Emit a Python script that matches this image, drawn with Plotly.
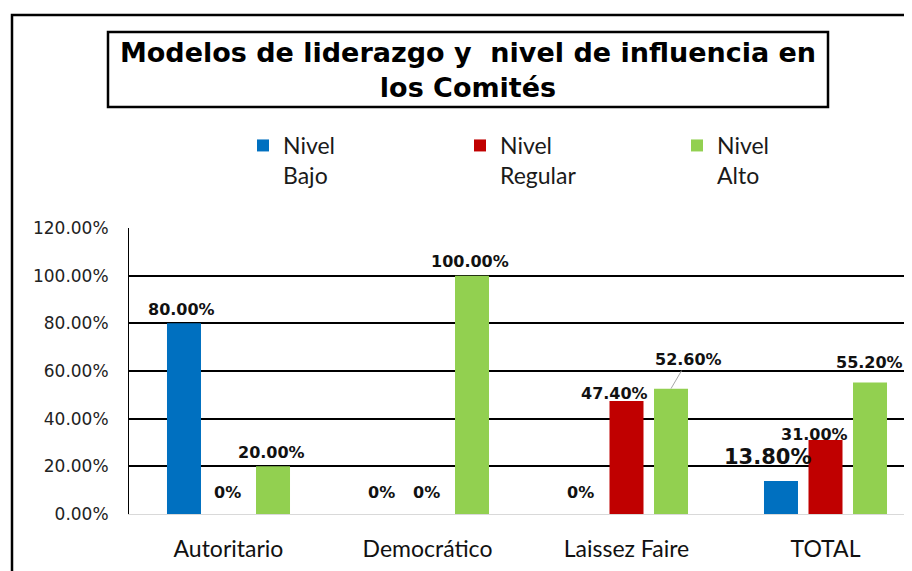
import plotly.graph_objects as go

# ---------------- data ----------------
categories = ["Autoritario", "Democrático", "Laissez Faire", "TOTAL"]
series_names = ["Nivel<br>Bajo", "Nivel<br>Regular", "Nivel<br>Alto"]
nivel_bajo = [0.80, 0.00, 0.00, 0.138]
nivel_regular = [0.00, 0.00, 0.474, 0.310]
nivel_alto = [0.20, 1.00, 0.526, 0.552]
y_tickvals = [0.0, 0.2, 0.4, 0.6, 0.8, 1.0, 1.2]
y_ticktext = ["0.00%", "20.00%", "40.00%", "60.00%", "80.00%", "100.00%", "120.00%"]
title_text = "<b>Modelos de liderazgo y\u00a0 nivel de influencia en<br>los Comités</b>"

# ---------------- styles / layout ----------------
colors = ["#0070C0", "#C00000", "#92D050"]
OFF = 8                      # page body margin of the html page
W, H = 912 - OFF, 571 - OFF  # figure size
# plot area in window pixels: x 129..912, y 228..514
ML, MT = 129 - OFF, 228 - OFF
MR, MB = 0, H - (514 - OFF)
PW, PH = W - ML - MR, H - MT - MB
CAT_PX = 199.0               # width of one category band in pixels
X_RANGE = [-0.5, -0.5 + PW / CAT_PX]
BARGAP, BARGROUPGAP = 0.329, 0.236
slot_px = CAT_PX * (1 - BARGAP) / 3

LABEL_FONT = "DejaVu Sans"
# per-label tweaks: (series, category) -> dict(dx, up, size, arrow)
label_style = {
    (0, 3): dict(dx=-13, up=24, size=21),
    (1, 2): dict(dx=-12, up=8),
    (1, 3): dict(dx=-11, up=6),
    (2, 2): dict(arrow=(17, -29)),
    (2, 3): dict(dx=-1, up=20),
}


def fmt(v):
    return "0%" if v == 0 else f"{v * 100:.2f}%"


all_series = [nivel_bajo, nivel_regular, nivel_alto]

fig = go.Figure()
for name, vals, col in zip(series_names, all_series, colors):
    fig.add_trace(go.Bar(x=categories, y=vals, name=name,
                         marker=dict(color=col, line=dict(width=0))))

annotations = []
for s, vals in enumerate(all_series):
    off = (s - 1) * slot_px
    for j, v in enumerate(vals):
        st = label_style.get((s, j), {})
        size = st.get("size", 16)
        if "arrow" in st:
            ax, ay = st["arrow"]
            annotations.append(dict(
                x=categories[j], y=v, xref="x", yref="y", text=f"<b>{fmt(v)}</b>",
                showarrow=True, ax=ax, ay=ay, arrowhead=0, arrowwidth=1,
                arrowcolor="#a6a6a6", standoff=0, xshift=off,
                font=dict(family=LABEL_FONT, size=size, color="#111"),
            ))
            continue
        up = st.get("up", 22 if v == 0 else 14)
        dx = st.get("dx", -1 if v == 0 else -2)
        annotations.append(dict(
            x=categories[j], y=v, xref="x", yref="y", text=f"<b>{fmt(v)}</b>",
            showarrow=False, xanchor="center", yanchor="middle",
            xshift=off + dx, yshift=up,
            font=dict(family=LABEL_FONT, size=size, color="#111"),
        ))


def px_x(p):  # window px -> paper x
    return (p - OFF - ML) / PW


def px_y(p):  # window px -> paper y
    return (H - MB - (p - OFF)) / PH


shapes = [
    # title box
    dict(type="rect", xref="paper", yref="paper",
         x0=px_x(108), x1=px_x(828), y0=px_y(107), y1=px_y(32),
         line=dict(color="black", width=2.5), fillcolor="rgba(0,0,0,0)"),
    # outer chart border
    dict(type="rect", xref="paper", yref="paper",
         x0=px_x(12), x1=1.2, y0=-0.5, y1=px_y(15),
         line=dict(color="black", width=2.5), fillcolor="rgba(0,0,0,0)"),
]

fig.update_layout(
    width=W, height=H,
    margin=dict(l=ML, r=MR, t=MT, b=MB, pad=0, autoexpand=False),
    paper_bgcolor="white", plot_bgcolor="white",
    font=dict(family="Lato", color="#111"),
    barmode="group", bargap=BARGAP, bargroupgap=BARGROUPGAP,
    title=dict(text=title_text, x=(468 - OFF) / W, xanchor="center", xref="container",
               y=1 - 54 / H, yanchor="top", yref="container",
               font=dict(family=LABEL_FONT, size=27, color="black")),
    legend=dict(orientation="h", x=(236 - 1) / W, xref="container", xanchor="left",
                y=1 - 116 / H, yref="container", yanchor="top",
                entrywidth=172, entrywidthmode="pixels", valign="top",
                traceorder="normal", bgcolor="rgba(0,0,0,0)",
                font=dict(family="Lato", size=23, color="#1a1a1a")),
    xaxis=dict(type="category", range=X_RANGE, showgrid=False,
               showline=True, linecolor="#d9d9d9", linewidth=1, ticks="",
               tickfont=dict(family="Lato", size=23, color="#111"),
               ticklabelstandoff=14),
    yaxis=dict(range=[0, 1.2], tickvals=y_tickvals, ticktext=y_ticktext,
               showgrid=True, gridcolor="black", gridwidth=1.5,
               zeroline=True, zerolinecolor="#d9d9d9", zerolinewidth=1,
               showline=True, linecolor="black", linewidth=1, ticks="",
               tickfont=dict(family=LABEL_FONT, size=17, color="#222"),
               ticklabelstandoff=16),
    annotations=annotations,
    shapes=shapes,
    showlegend=True,
)

fig.write_html("out.html")
